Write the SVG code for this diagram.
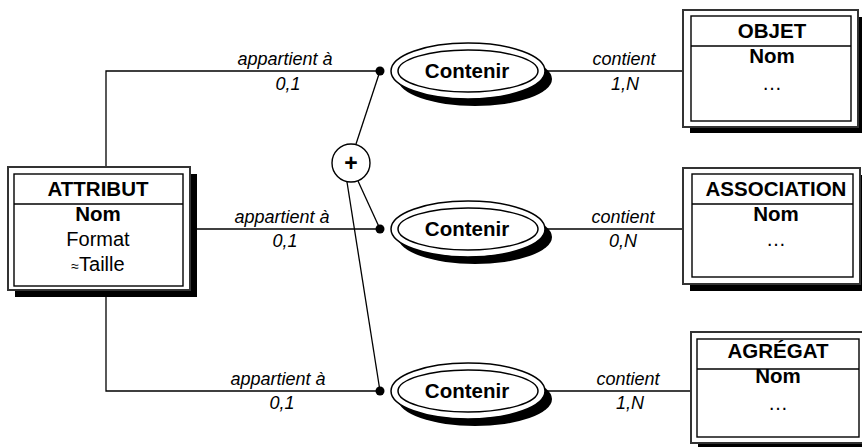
<svg xmlns="http://www.w3.org/2000/svg" width="862" height="447" viewBox="0 0 862 447">
  <style>
    .bg { fill: #ffffff; }
    .link { fill: none; stroke: #000; stroke-width: 1.3; }
    .shadow { fill: #000; }
    .frame { fill: #fff; stroke: #333; stroke-width: 2; }
    .inner { fill: none; stroke: #000; stroke-width: 1.4; }
    .ell { fill: #fff; stroke: #000; stroke-width: 1.5; }
    .ttl { font-family: "Liberation Sans", Arial, sans-serif; font-weight: bold; font-size: 20.5px; text-anchor: middle; fill: #000; }
    .txt { font-family: "Liberation Sans", Arial, sans-serif; font-size: 20px; text-anchor: middle; fill: #000; }
    .lbl { font-family: "Liberation Sans", Arial, sans-serif; font-style: italic; font-size: 18px; text-anchor: middle; fill: #000; }
    .dot { fill: #000; }
  </style>
  <rect class="bg" x="0" y="0" width="862" height="447"/>

  <!-- connectors -->
  <g id="connectors">
    <polyline class="link" points="106,168 106,71 380,71"/>
    <line class="link" x1="190" y1="229" x2="380" y2="229"/>
    <polyline class="link" points="106,297 106,391 380,391"/>
    <line class="link" x1="545" y1="71" x2="683" y2="71"/>
    <line class="link" x1="545" y1="229" x2="683" y2="229"/>
    <line class="link" x1="545" y1="391" x2="691" y2="391"/>
    <line class="link" x1="380" y1="71" x2="356" y2="144"/>
    <line class="link" x1="380" y1="229" x2="358" y2="181"/>
    <line class="link" x1="380" y1="391" x2="347" y2="182"/>
    <circle class="dot" cx="380" cy="71" r="4.5"/>
    <circle class="dot" cx="380" cy="229" r="4.5"/>
    <circle class="dot" cx="380" cy="391" r="4.5"/>
    <text class="lbl" x="285" y="65">appartient à</text>
    <text class="lbl" x="288" y="90">0,1</text>
    <text class="lbl" x="282" y="223">appartient à</text>
    <text class="lbl" x="285" y="247">0,1</text>
    <text class="lbl" x="278" y="385">appartient à</text>
    <text class="lbl" x="282" y="409">0,1</text>
    <text class="lbl" x="624" y="65">contient</text>
    <text class="lbl" x="625" y="90">1,N</text>
    <text class="lbl" x="623" y="223">contient</text>
    <text class="lbl" x="623" y="247">0,N</text>
    <text class="lbl" x="628" y="385">contient</text>
    <text class="lbl" x="630" y="409">1,N</text>
  </g>

  <!-- exclusion constraint -->
  <g id="plus">
    <circle cx="351" cy="163" r="19" fill="#fff" stroke="#000" stroke-width="1.4"/>
    <text class="ttl" x="351" y="171" style="font-size:23px">+</text>
  </g>

  <!-- relationships -->
  <g id="contenir-objet">
    <ellipse class="shadow" cx="475" cy="79" rx="77" ry="27"/>
    <ellipse class="ell" cx="468" cy="71" rx="77" ry="28"/>
    <ellipse class="ell" cx="468" cy="71" rx="70" ry="21"/>
    <text class="ttl" x="467" y="78">Contenir</text>
  </g>
  <g id="contenir-association">
    <ellipse class="shadow" cx="475" cy="237" rx="77" ry="27"/>
    <ellipse class="ell" cx="468" cy="229" rx="77" ry="28"/>
    <ellipse class="ell" cx="468" cy="229" rx="70" ry="21"/>
    <text class="ttl" x="467" y="236">Contenir</text>
  </g>
  <g id="contenir-agregat">
    <ellipse class="shadow" cx="475" cy="399" rx="77" ry="27"/>
    <ellipse class="ell" cx="468" cy="391" rx="77" ry="28"/>
    <ellipse class="ell" cx="468" cy="391" rx="70" ry="21"/>
    <text class="ttl" x="467" y="398">Contenir</text>
  </g>

  <!-- entities -->
  <g id="attribut">
    <rect class="shadow" x="15" y="174" width="182" height="123"/>
    <rect class="frame" x="8" y="167" width="182" height="123"/>
    <rect class="inner" x="14" y="174" width="169" height="112"/>
    <line class="inner" x1="14" y1="204" x2="183" y2="204"/>
    <text class="ttl" x="98" y="196">ATTRIBUT</text>
    <text class="ttl" x="98" y="221">Nom</text>
    <text class="txt" x="98" y="246">Format</text>
    <text class="txt" x="98" y="271"><tspan style="font-size:14px">≈</tspan>Taille</text>
  </g>
  <g id="objet">
    <rect class="shadow" x="690" y="17" width="180" height="116"/>
    <rect class="frame" x="683" y="10" width="175" height="117"/>
    <rect class="inner" x="691" y="16" width="160" height="105"/>
    <line class="inner" x1="691" y1="46" x2="851" y2="46"/>
    <text class="ttl" x="772" y="38">OBJET</text>
    <text class="ttl" x="772" y="63">Nom</text>
    <text class="txt" x="772" y="90">…</text>
  </g>
  <g id="association">
    <rect class="shadow" x="690" y="175" width="180" height="116"/>
    <rect class="frame" x="683" y="168" width="177" height="116"/>
    <rect class="inner" x="692" y="174" width="161" height="103"/>
    <line class="inner" x1="692" y1="204" x2="853" y2="204"/>
    <text class="ttl" x="776" y="196">ASSOCIATION</text>
    <text class="ttl" x="776" y="221">Nom</text>
    <text class="txt" x="776" y="246">…</text>
  </g>
  <g id="agregat">
    <rect class="shadow" x="698" y="339" width="180" height="116"/>
    <rect class="frame" x="691" y="332" width="175" height="111"/>
    <rect class="inner" x="697" y="339" width="162" height="98"/>
    <line class="inner" x1="697" y1="369" x2="859" y2="369"/>
    <text class="ttl" x="778" y="358">AGRÉGAT</text>
    <text class="ttl" x="778" y="383">Nom</text>
    <text class="txt" x="778" y="410">…</text>
  </g>
</svg>
